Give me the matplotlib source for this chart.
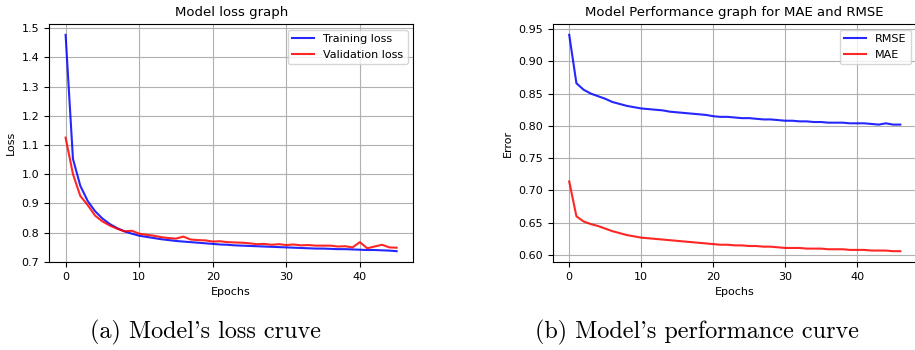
import numpy as np
from matplotlib import pyplot as plt

# values
train_loss = [1.477, 1.052, 0.960, 0.908, 0.873, 0.848, 0.829, 0.815, 0.804, 0.796,
              0.789, 0.785, 0.781, 0.777, 0.774, 0.771, 0.769, 0.767, 0.765, 0.763,
              0.761, 0.759, 0.758, 0.756, 0.755, 0.754, 0.753, 0.752, 0.751, 0.750,
              0.749, 0.748, 0.747, 0.746, 0.745, 0.745, 0.744, 0.743, 0.743, 0.742,
              0.741, 0.740, 0.740, 0.739, 0.738, 0.736]
val_loss = [1.125, 1.000, 0.925, 0.894, 0.858, 0.838, 0.824, 0.813, 0.804, 0.806,
            0.796, 0.792, 0.789, 0.784, 0.781, 0.779, 0.786, 0.776, 0.774, 0.773,
            0.769, 0.770, 0.767, 0.766, 0.765, 0.763, 0.760, 0.761, 0.758, 0.760,
            0.757, 0.759, 0.756, 0.757, 0.755, 0.755, 0.755, 0.752, 0.753, 0.749,
            0.767, 0.746, 0.752, 0.758, 0.749, 0.748]
loss_epochs = np.arange(len(train_loss))

rmse = [0.941, 0.866, 0.856, 0.850, 0.846, 0.842, 0.837, 0.834, 0.831, 0.829,
        0.827, 0.826, 0.825, 0.824, 0.822, 0.821, 0.820, 0.819, 0.818, 0.817,
        0.815, 0.814, 0.814, 0.813, 0.812, 0.812, 0.811, 0.810, 0.810, 0.809,
        0.808, 0.808, 0.807, 0.807, 0.806, 0.806, 0.805, 0.805, 0.805, 0.804,
        0.804, 0.804, 0.803, 0.802, 0.804, 0.802, 0.802]
mae = [0.714, 0.660, 0.652, 0.648, 0.645, 0.641, 0.637, 0.634, 0.631, 0.629,
       0.627, 0.626, 0.625, 0.624, 0.623, 0.622, 0.621, 0.620, 0.619, 0.618,
       0.617, 0.616, 0.616, 0.615, 0.615, 0.614, 0.614, 0.613, 0.613, 0.612,
       0.611, 0.611, 0.611, 0.610, 0.610, 0.610, 0.609, 0.609, 0.609, 0.608,
       0.608, 0.608, 0.607, 0.607, 0.607, 0.606, 0.606]
perf_epochs = np.arange(len(rmse))

plt.rcParams['font.size'] = 8

fig = plt.figure(figsize=(9.15, 3.5), dpi=100)
ax1 = fig.add_axes([0.0536, 0.2514, 0.398, 0.68])
ax2 = fig.add_axes([0.604, 0.2514, 0.398, 0.68])

ax1.plot(loss_epochs, train_loss, color='blue', alpha=0.85, lw=1.5, label='Training loss')
ax1.plot(loss_epochs, val_loss, color='red', alpha=0.85, lw=1.5, label='Validation loss')
ax1.set_title('Model loss graph', fontsize=9.5)
ax1.set_xlabel('Epochs')
ax1.set_ylabel('Loss')
ax1.grid(True, color='#b0b0b0', lw=0.8)
ax1.legend(loc='upper right')

ax2.plot(perf_epochs, rmse, color='blue', alpha=0.85, lw=1.5, label='RMSE')
ax2.plot(perf_epochs, mae, color='red', alpha=0.85, lw=1.5, label='MAE')
ax2.set_title('Model Performance graph for MAE and RMSE', fontsize=9.5)
ax2.set_xlabel('Epochs')
ax2.set_ylabel('Error')
ax2.grid(True, color='#b0b0b0', lw=0.8)
ax2.legend(loc='upper right')

cap_font = ['cmr10', 'DejaVu Serif']
fig.text(206 / 915, 1 - 338 / 350, "(a) Model's loss cruve", family=cap_font,
         fontsize=17.4, ha='center', va='baseline')
fig.text(697 / 915, 1 - 338 / 350, "(b) Model's performance curve", family=cap_font,
         fontsize=17.4, ha='center', va='baseline')

fig.savefig('out.png', dpi=100)
